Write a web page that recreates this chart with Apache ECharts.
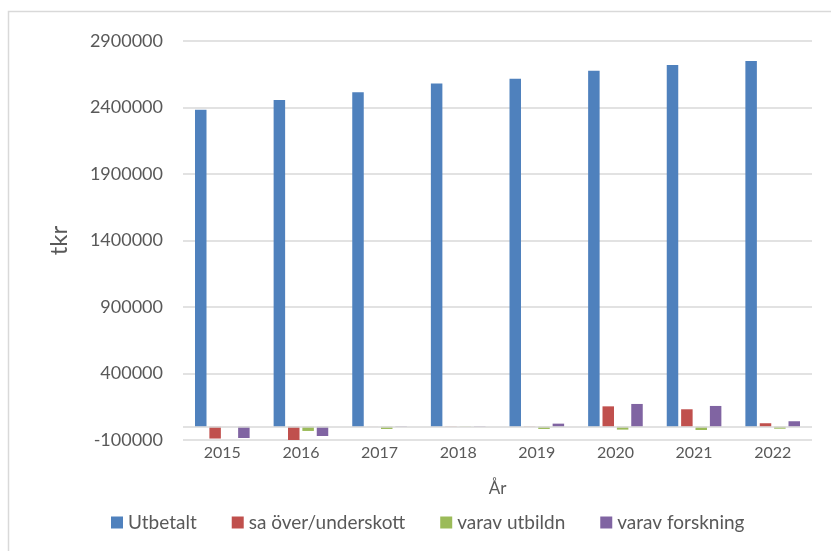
<!DOCTYPE html>
<html>
<head>
<meta charset="utf-8">
<script src="https://cdn.jsdelivr.net/npm/echarts@6/dist/echarts.min.js"></script>
<style>
    html, body { margin: 0; padding: 0; background: #fff; }
    #chart { width: 831px; height: 551px; }
</style>
</head>
<body>
<div id="chart"></div>
<script>
'use strict';

var years = ['2015', '2016', '2017', '2018', '2019', '2020', '2021', '2022'];
var utbetalt = [2384000, 2456000, 2514000, 2580000, 2617000, 2677000, 2720000, 2750000];
var overUnderskott = [-89000, -102000, 500, 2000, 2000, 153000, 131000, 26000];
var varavUtbildn = [0, -32000, -17000, -2000, -17000, -22000, -25000, -15000];
var varavForskning = [-85000, -70000, 3000, 3000, 23000, 171000, 156000, 41000];
var seriesNames = ['Utbetalt', 'sa över/underskott', 'varav utbildn', 'varav forskning'];
var seriesColors = ['#4f81bd', '#c0504d', '#9bbb59', '#8064a2'];

var font = 'Lato, "Open Sans", sans-serif';
var textColor = '#595959';
var lineColor = '#d9d9d9';

function makeBar(i, data) {
    var s = {
        name: seriesNames[i],
        type: 'bar',
        data: data,
        barWidth: 11.5,
        barGap: '25%',
        itemStyle: { color: seriesColors[i] }
    };
    // x-axeln ligger vid noll, etiketterna längst ner
    if (i == 0) {
        s.markLine = {
            silent: true,
            symbol: 'none',
            label: { show: false },
            lineStyle: { color: lineColor, width: 1.5, type: 'solid' },
            data: [{ yAxis: 0 }]
        };
    }
    return s;
}

var chart = echarts.init(document.getElementById('chart'));
var option = {
    animation: false,
    backgroundColor: '#fff',
    textStyle: { fontFamily: font },
    graphic: [{
        type: 'rect',
        shape: { x: 8.5, y: 11.5, width: 900, height: 600 },
        style: { fill: 'none', stroke: lineColor, lineWidth: 1.5 },
        silent: true
    }],
    grid: { left: 183, right: 19, top: 41, bottom: 111 },
    legend: {
        left: 106,
        top: 508,
        icon: 'rect',
        itemWidth: 12,
        itemHeight: 12,
        itemGap: 35,
        textStyle: { color: textColor, fontSize: 19, fontFamily: font },
        data: seriesNames
    },
    xAxis: {
        type: 'category',
        data: years,
        name: 'År',
        nameLocation: 'middle',
        nameGap: 40,
        nameTextStyle: { color: textColor, fontSize: 17, fontFamily: font },
        axisLine: { show: false },
        axisTick: { show: false },
        axisLabel: { color: textColor, fontSize: 16, margin: 5, fontFamily: font }
    },
    yAxis: {
        type: 'value',
        min: -100000,
        max: 2900000,
        interval: 500000,
        name: 'tkr',
        nameLocation: 'middle',
        nameGap: 112,
        nameTextStyle: { color: textColor, fontSize: 24, fontFamily: font },
        axisLine: { show: false },
        axisTick: { show: false },
        axisLabel: {
            color: textColor,
            fontSize: 18,
            margin: 20,
            fontFamily: font,
            formatter: function (v) { return String(v); }
        },
        splitLine: { lineStyle: { color: lineColor, width: 1.5 } }
    },
    series: [
        makeBar(0, utbetalt),
        makeBar(1, overUnderskott),
        makeBar(2, varavUtbildn),
        makeBar(3, varavForskning)
    ]
};
chart.setOption(option);
</script>
</body>
</html>
